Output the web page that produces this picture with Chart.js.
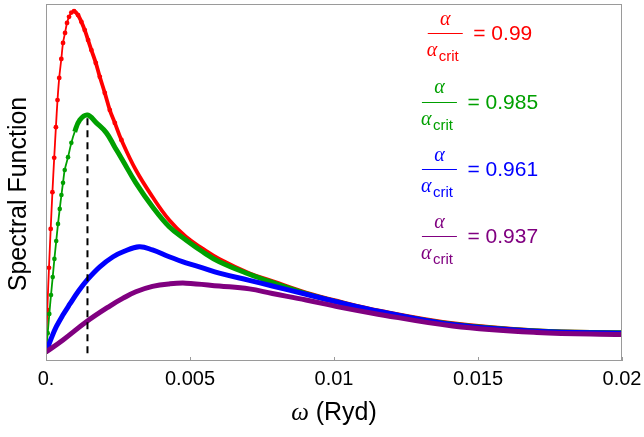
<!DOCTYPE html>
<html>
<head>
<meta charset="utf-8">
<script src="https://cdn.jsdelivr.net/npm/chart.js@4.4.1/dist/chart.umd.min.js"></script>
<style>
  html, body { margin: 0; padding: 0; background: #ffffff; }
  #box { width: 644px; height: 437px; }
</style>
</head>
<body>
<div id="box"><canvas id="spec" width="644" height="437"></canvas></div>
<script>
// ω in Ryd, spectral function in arbitrary units
const omegaRed = [0, 0.000045, 0.000104, 0.000163, 0.000223, 0.000285, 0.000344, 0.000400, 0.000459, 0.000532,
  0.000591, 0.000661, 0.000730, 0.000800, 0.000880, 0.000974, 0.001113, 0.001228, 0.001346, 0.001461,
  0.001576, 0.001729, 0.001868, 0.002042, 0.002216, 0.002390, 0.002619, 0.003120, 0.003697, 0.004278,
  0.004859, 0.005437, 0.006017, 0.007061, 0.00786, 0.00903, 0.01019, 0.01158, 0.01412, 0.01704, 0.02];
const specRed = [2.5, 14.3, 26.1, 37.0, 47.3, 56.9, 65.5, 73.1, 79.3, 84.6,
  89.1, 91.9, 94.7, 96.4, 97.6, 98.0, 96.9, 95.0, 92.7, 89.9,
  87.1, 83.5, 79.6, 75.1, 70.3, 66.7, 61.9, 53.5, 46.0, 39.5,
  34.8, 31.5, 28.6, 24.6, 22.4, 19.2, 16.7, 14.1, 10.6, 8.6, 8.0];

const omegaGreen = [0, 0.000059, 0.000115, 0.000174, 0.000233, 0.000292, 0.000355, 0.000417, 0.000477, 0.000536,
  0.000591, 0.000650, 0.000765, 0.000880, 0.000998, 0.001172, 0.00144, 0.001750, 0.002097, 0.002390,
  0.002654, 0.003120, 0.003697, 0.004278, 0.004859, 0.005437, 0.006017, 0.007061, 0.00786, 0.00903,
  0.01019, 0.01158, 0.01412, 0.01704, 0.02];
const specGreen = [2.5, 7.8, 13.2, 18.5, 23.5, 28.6, 33.6, 38.4, 42.6, 46.5,
  49.9, 53.5, 57.1, 61.1, 64.2, 67.5, 68.9, 66.7, 63.9, 59.9,
  56.3, 49.9, 43.2, 37.6, 33.9, 30.6, 27.8, 24.3, 22.0, 18.9,
  16.4, 13.8, 10.3, 8.4, 7.9];

const omegaBlue = [0, 0.00018, 0.000358, 0.00058, 0.000824, 0.00113, 0.00146, 0.001868, 0.002330, 0.002678,
  0.003235, 0.003697, 0.004278, 0.004859, 0.005437, 0.006017, 0.007061, 0.00786, 0.00903, 0.01019,
  0.01158, 0.01412, 0.01704, 0.02];
const specBlue = [2.5, 6.3, 9.6, 12.8, 15.9, 19.6, 23.0, 26.4, 29.2, 30.6,
  32.0, 31.1, 29.2, 27.5, 26.1, 24.6, 22.6, 21.0, 18.7, 16.4,
  13.9, 10.2, 8.3, 7.8];

const omegaPurple = [0, 0.000591, 0.001402, 0.002216, 0.002678, 0.003120, 0.003697, 0.004278, 0.004859, 0.006017,
  0.007061, 0.00786, 0.00903, 0.01019, 0.01134, 0.01412, 0.01704, 0.02];
const specPurple = [2.5, 5.9, 11.0, 15.4, 17.6, 19.4, 20.9, 21.6, 21.8, 21.0,
  20.2, 18.9, 17.1, 15.1, 13.4, 9.8, 8.0, 7.4];

// α/α_crit for each curve
const ratioLabels = ['0.99', '0.985', '0.961', '0.937'];

// position of the peak of the α/α_crit = 0.985 curve (dashed marker)
const peakOmega = 0.00144;
const peakSpec = 68.9;
const markerBase = 2.2;

const tickValues = [0, 0.005, 0.01, 0.015, 0.02];
const tickLabels = ['0.', '0.005', '0.01', '0.015', '0.02'];

const colors = ['#ff0000', '#00a000', '#0000ff', '#800080'];
const SANS = '"Liberation Sans", Arial, sans-serif';
const SERIF = '"Liberation Serif", "Times New Roman", serif';

const pts = (xs, ys) => xs.map((x, i) => ({ x: x, y: ys[i] }));

function curve(label, xs, ys, color, order, opts) {
  return Object.assign({
    label: label,
    data: pts(xs, ys),
    borderColor: color,
    backgroundColor: color,
    pointBackgroundColor: color,
    pointBorderWidth: 0,
    pointRadius: 0,
    borderWidth: 5,
    tension: 0.4,
    cubicInterpolationMode: 'default',
    fill: false,
    order: order,
    clip: { left: 0, right: 0, top: 6, bottom: 6 }
  }, opts || {});
}

const datasets = [
  {
    label: 'peak',
    data: [{ x: peakOmega, y: markerBase }, { x: peakOmega, y: peakSpec }],
    borderColor: '#000000',
    borderWidth: 2,
    borderDash: [7, 5],
    pointRadius: 0,
    tension: 0,
    order: 0
  },
  curve(ratioLabels[3], omegaPurple, specPurple, colors[3], 1),
  curve(ratioLabels[2], omegaBlue, specBlue, colors[2], 2),
  curve(ratioLabels[1], omegaGreen, specGreen, colors[1], 3, {
    borderWidth: 1.8,
    pointRadius: c => (c.raw && c.raw.x <= 0.00095 ? 2.3 : 0),
    segment: { borderWidth: c => (c.p0.parsed.x >= 0.00095 ? 5 : 1.8) }
  }),
  curve(ratioLabels[0], omegaRed, specRed, colors[0], 4, {
    borderWidth: 1.8,
    pointRadius: c => (c.raw && c.raw.x <= 0.0027 ? 2.4 : 0),
    segment: { borderWidth: c => (c.p0.parsed.x >= 0.00097 ? 3.8 : 1.8) }
  })
];

// frame, inward ticks, axis titles and the α/α_crit labels
const decorations = {
  id: 'decorations',
  afterDatasetsDraw(chart) {
    const ctx = chart.ctx;
    const a = chart.chartArea;
    const xs = chart.scales.x;
    ctx.save();

    ctx.strokeStyle = '#9a9a9a';
    ctx.lineWidth = 1;
    ctx.strokeRect(a.left + 0.5, a.top + 0.5, a.right - a.left - 1, a.bottom - a.top - 1);
    tickValues.forEach(v => {
      const px = Math.round(xs.getPixelForValue(v)) + 0.5;
      ctx.beginPath();
      ctx.moveTo(px, a.bottom);
      ctx.lineTo(px, a.bottom - 4);
      ctx.stroke();
    });

    // x title: ω (Ryd)
    ctx.fillStyle = '#000000';
    ctx.textBaseline = 'alphabetic';
    const cx = (a.left + a.right) / 2;
    ctx.font = 'italic 25px ' + SERIF;
    const wOmega = ctx.measureText('ω').width;
    ctx.font = '25px ' + SANS;
    const wRest = ctx.measureText(' (Ryd)').width;
    const sx = cx - (wOmega + wRest) / 2;
    ctx.textAlign = 'left';
    ctx.font = 'italic 25px ' + SERIF;
    ctx.fillText('ω', sx, 420);
    ctx.font = '25px ' + SANS;
    ctx.fillText(' (Ryd)', sx + wOmega, 420);

    // y title
    ctx.save();
    ctx.translate(26, 194);
    ctx.rotate(-Math.PI / 2);
    ctx.textAlign = 'center';
    ctx.font = '25px ' + SANS;
    ctx.fillText('Spectral Function', 0, 0);
    ctx.restore();

    // α/α_crit = value
    const rows = [33, 101.7, 169, 236];
    const fracW = 35, gap = 10.5, centerX = 480;
    ratioLabels.forEach((txt, i) => {
      const yl = rows[i];
      const col = colors[i];
      ctx.font = '21px ' + SANS;
      const rhs = '= ' + txt;
      const wr = ctx.measureText(rhs).width;
      const x0 = centerX - (fracW + gap + wr) / 2;
      ctx.fillStyle = col;
      ctx.strokeStyle = col;
      ctx.lineWidth = 1;
      ctx.beginPath();
      ctx.moveTo(x0, Math.round(yl) + 0.5);
      ctx.lineTo(x0 + fracW, Math.round(yl) + 0.5);
      ctx.stroke();

      ctx.textAlign = 'center';
      ctx.font = 'italic 20px ' + SERIF;
      ctx.fillText('α', x0 + fracW / 2, yl - 8.5);

      ctx.textAlign = 'left';
      ctx.fillText('α', x0 - 1, yl + 23);
      const wa = ctx.measureText('α').width;
      ctx.font = '15px ' + SANS;
      ctx.fillText('crit', x0 - 1 + wa + 1.5, yl + 28);

      ctx.font = '21px ' + SANS;
      ctx.fillText(rhs, x0 + fracW + gap, yl + 7);
    });

    ctx.restore();
  }
};

new Chart(document.getElementById('spec'), {
  type: 'line',
  data: { datasets: datasets },
  plugins: [decorations],
  options: {
    responsive: false,
    animation: false,
    devicePixelRatio: 1,
    layout: { padding: { top: 4, right: 22, left: 0, bottom: 0 } },
    plugins: { legend: { display: false }, tooltip: { enabled: false } },
    scales: {
      x: {
        type: 'linear',
        min: 0,
        max: 0.02,
        grid: { display: false },
        border: { display: false },
        afterBuildTicks: s => { s.ticks = tickValues.map(v => ({ value: v })); },
        afterFit: s => { s.height = 76; },
        ticks: {
          autoSkip: false,
          maxRotation: 0,
          padding: -2,
          color: '#000000',
          font: { family: SANS, size: 20 },
          callback: (v, i) => tickLabels[i]
        }
      },
      y: {
        type: 'linear',
        min: 0,
        max: 100,
        grid: { display: false },
        border: { display: false },
        ticks: { display: false },
        afterFit: s => { s.width = 46; }
      }
    }
  }
});
</script>
</body>
</html>
